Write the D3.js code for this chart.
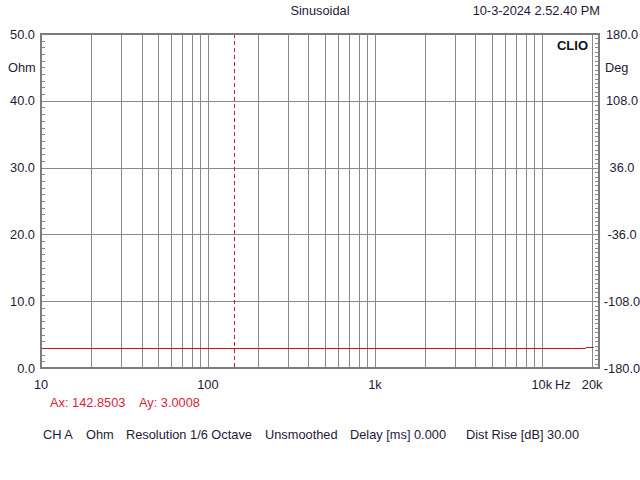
<!DOCTYPE html>
<html>
<head>
<meta charset="utf-8">
<script src="https://cdn.jsdelivr.net/npm/d3@7"></script>
<style>
  html, body { margin: 0; padding: 0; background: #fff; }
  svg text { font-family: "Liberation Sans", Arial, sans-serif; }
</style>
</head>
<body>
<svg id="chart" width="640" height="480"></svg>
<script>
// ---- data ----
const freqHz   = [10, 20, 50, 100, 200, 500, 1000, 2000, 5000, 10000, 15000, 18300, 18400, 20500];
const impOhm   = [3.0, 3.0, 3.0, 3.0, 3.0, 3.0, 3.0, 3.0, 3.0, 3.0, 3.0, 3.0, 3.15, 3.15];
const cursorHz = 142.8503;
const cursorOhm = 3.0008;
const xTickVals  = [10, 100, 1000, 10000, 20000];
const xTickLbls  = ["10", "100", "1k", "10k", "20k"];
const yTickVals  = [0, 10, 20, 30, 40, 50];
const yTickLbls  = ["0.0", "10.0", "20.0", "30.0", "40.0", "50.0"];
const y2TickVals = [-180, -108, -36, 36, 108, 180];
const y2TickLbls = ["-180.0", "-108.0", "-36.0", "36.0", "108.0", "180.0"];
const footer = ["CH A", "Ohm", "Resolution 1/6 Octave", "Unsmoothed", "Delay [ms] 0.000", "Dist Rise [dB] 30.00"];

// ---- layout ----
const L = 41, R = 599, T = 34, B = 368;
const FS = 12.8;
const svg = d3.select("#chart");
const x = d3.scaleLog().domain([10, 22000]).range([L, R]);
const y = d3.scaleLinear().domain([0, 50]).range([B, T]);
const y2 = d3.scaleLinear().domain([-180, 180]).range([B, T]);
const textCol = "#1e1a38";
const gridCol = "#888888";

// vertical grid lines (log)
const gridX = [];
[10, 100, 1000, 10000].forEach(d => { for (let k = 1; k <= 9; k++) { const f = d * k; if (f > 10 && f <= 20000) gridX.push(f); } });
svg.append("g").selectAll("line").data(gridX).join("line")
  .attr("x1", d => Math.round(x(d)) + 0.5).attr("x2", d => Math.round(x(d)) + 0.5)
  .attr("y1", T).attr("y2", B)
  .attr("stroke", gridCol).attr("stroke-width", 1);

// horizontal grid lines
svg.append("g").selectAll("line").data(yTickVals.filter(v => v > 0 && v < 50)).join("line")
  .attr("x1", L).attr("x2", R)
  .attr("y1", d => Math.round(y(d)) + 0.5).attr("y2", d => Math.round(y(d)) + 0.5)
  .attr("stroke", gridCol).attr("stroke-width", 1);

// minor ticks left (every 1 ohm)
svg.append("g").selectAll("line").data(d3.range(0, 51, 1)).join("line")
  .attr("x1", L).attr("x2", L + 4)
  .attr("y1", d => Math.round(y(d)) + 0.5).attr("y2", d => Math.round(y(d)) + 0.5)
  .attr("stroke", gridCol).attr("stroke-width", 1);
// minor ticks right (every 4.8 deg)
svg.append("g").selectAll("line").data(d3.range(-180, 180.1, 4.8)).join("line")
  .attr("x1", R - 4).attr("x2", R)
  .attr("y1", d => Math.round(y2(d)) + 0.5).attr("y2", d => Math.round(y2(d)) + 0.5)
  .attr("stroke", gridCol).attr("stroke-width", 1);

// cursor
svg.append("line")
  .attr("x1", Math.round(x(cursorHz)) + 0.5).attr("x2", Math.round(x(cursorHz)) + 0.5)
  .attr("y1", T).attr("y2", B)
  .attr("stroke", "#c81e3c").attr("stroke-width", 1).attr("stroke-dasharray", "4,3");

// curve
svg.append("path").datum(impOhm)
  .attr("d", d3.line().x((d, i) => x(freqHz[i])).y(d => Math.round(y(d)) + 0.5))
  .attr("fill", "none").attr("stroke", "#c81414").attr("stroke-width", 1);

// border
svg.append("rect").attr("x", L).attr("y", T).attr("width", R - L).attr("height", B - T)
  .attr("fill", "none").attr("stroke", "#7c7c7c").attr("stroke-width", 2);

// left labels
svg.append("g").selectAll("text").data(yTickVals).join("text")
  .attr("x", 35).attr("y", d => y(d) + 4.5).attr("text-anchor", "end")
  .attr("font-size", FS).attr("fill", textCol).text((d, i) => yTickLbls[i]);
// right labels
svg.append("g").selectAll("text").data(y2TickVals).join("text")
  .attr("x", 622).attr("y", d => y2(d) + 4.5).attr("text-anchor", "middle")
  .attr("font-size", FS).attr("fill", textCol).text((d, i) => y2TickLbls[i]);
// x labels
svg.append("g").selectAll("text").data(xTickVals).join("text")
  .attr("x", d => x(d)).attr("y", 389).attr("text-anchor", "middle")
  .attr("font-size", FS).attr("fill", textCol).text((d, i) => xTickLbls[i]);
svg.append("text").attr("x", 555).attr("y", 389).attr("font-size", FS).attr("fill", textCol).text("Hz");

// units
svg.append("text").attr("x", 8).attr("y", 72).attr("font-size", FS).attr("fill", textCol).text("Ohm");
svg.append("text").attr("x", 605).attr("y", 72).attr("font-size", FS).attr("fill", textCol).text("Deg");

// header
svg.append("text").attr("x", 320).attr("y", 15).attr("text-anchor", "middle").attr("font-size", FS).attr("fill", textCol).text("Sinusoidal");
svg.append("text").attr("x", 600).attr("y", 15).attr("text-anchor", "end").attr("font-size", FS).attr("fill", textCol).text("10-3-2024 2.52.40 PM");
svg.append("text").attr("x", 588).attr("y", 50).attr("text-anchor", "end").attr("font-size", 13).attr("font-weight", "bold").attr("fill", "#111").text("CLIO");

// cursor readout
svg.append("text").attr("x", 50).attr("y", 407).attr("font-size", FS).attr("fill", "#d81e3c").text("Ax: " + cursorHz.toFixed(4));
svg.append("text").attr("x", 139).attr("y", 407).attr("font-size", FS).attr("fill", "#d81e3c").text("Ay: " + cursorOhm.toFixed(4));

// footer
const footX = [43, 86, 126, 265, 350, 466];
svg.append("g").selectAll("text").data(footer).join("text")
  .attr("x", (d, i) => footX[i]).attr("y", 439)
  .attr("font-size", FS).attr("fill", textCol).text(d => d);
</script>
</body>
</html>
